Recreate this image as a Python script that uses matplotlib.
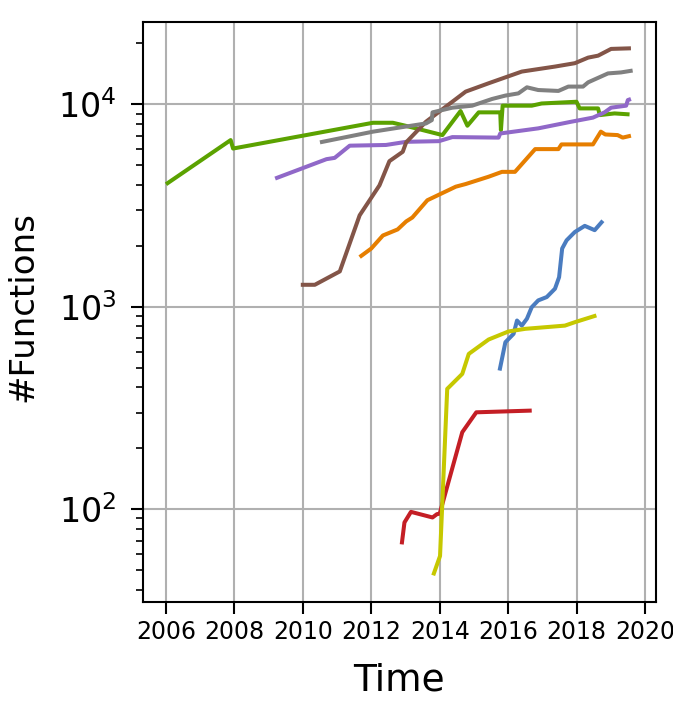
import numpy as np
import matplotlib
matplotlib.use("Agg")
import matplotlib.pyplot as plt

# ---------DATA---------
blue_t = [2015.75, 2015.92, 2016.16, 2016.26, 2016.40, 2016.55, 2016.69, 2016.88,
          2017.13, 2017.37, 2017.49, 2017.58, 2017.71, 2017.95, 2018.24, 2018.53, 2018.77]
blue_v = [484, 668, 735, 855, 807, 873, 995, 1075,
          1117, 1228, 1400, 1940, 2130, 2340, 2510, 2390, 2660]

orange_t = [2011.66, 2012.00, 2012.34, 2012.77, 2013.02, 2013.20, 2013.64, 2014.47,
            2014.76, 2015.43, 2015.82, 2016.20, 2016.79, 2017.47, 2017.56, 2018.48,
            2018.71, 2018.84, 2019.20, 2019.35, 2019.59]
orange_v = [1760, 1940, 2250, 2410, 2640, 2760, 3360, 3920,
            4040, 4390, 4640, 4640, 6010, 6010, 6340, 6340,
            7330, 7100, 7050, 6850, 7000]

green_t = [2006.00, 2007.89, 2007.96, 2012.05, 2012.63, 2013.00, 2014.08, 2014.61,
           2014.81, 2015.14, 2015.77, 2015.79, 2015.84, 2016.69, 2016.98, 2018.00,
           2018.09, 2018.63, 2018.68, 2019.11, 2019.55]
green_v = [4030, 6660, 6050, 8110, 8110, 7840, 7050, 9270,
           7840, 9130, 9130, 7460, 9850, 9850, 10100, 10300,
           9550, 9550, 8850, 9020, 8920]

red_t = [2012.89, 2012.97, 2013.16, 2013.79, 2013.92, 2014.00, 2014.66, 2015.07, 2016.69]
red_v = [67, 86, 97, 91, 94.5, 95, 240, 301, 307]

purple_t = [2009.19, 2010.69, 2010.93, 2011.37, 2012.43, 2013.02, 2013.98, 2014.37,
            2015.72, 2015.77, 2016.88, 2017.85, 2018.48, 2018.82, 2019.01, 2019.45,
            2019.50, 2019.59]
purple_v = [4300, 5360, 5440, 6250, 6300, 6530, 6580, 6890,
            6850, 7180, 7610, 8210, 8600, 9130, 9630, 9850,
            10500, 10630]

brown_t = [2009.94, 2010.35, 2011.08, 2011.66, 2012.24, 2012.53, 2012.92, 2013.02,
           2013.60, 2014.76, 2015.43, 2016.40, 2017.37, 2017.95, 2018.34, 2018.63,
           2019.01, 2019.59]
brown_v = [1284, 1284, 1495, 2830, 3980, 5240, 5830, 6490,
           8210, 11560, 12710, 14520, 15370, 15970, 17020, 17400,
           18790, 18920]

gray_t = [2010.50, 2012.05, 2013.60, 2013.77, 2013.79, 2014.37, 2014.95, 2015.53,
          2015.92, 2016.30, 2016.55, 2016.88, 2017.47, 2017.76, 2018.19, 2018.34,
          2018.92, 2019.30, 2019.64]
gray_v = [6490, 7330, 8050, 8360, 9130, 9630, 9850, 10630,
          11050, 11330, 12140, 11770, 11650, 12240, 12240, 12850,
          14220, 14380, 14690]

olive_t = [2013.81, 2014.01, 2014.22, 2014.66, 2014.85, 2015.43, 2016.01, 2016.50,
           2017.66, 2017.95, 2018.58]
olive_v = [47.1, 58.7, 393, 466, 585, 689, 755, 778,
           807, 839, 906]

xtick_years = [2006, 2008, 2010, 2012, 2014, 2016, 2018, 2020]

series = [
    (blue_t, blue_v, "#4a7cc0"),
    (orange_t, orange_v, "#e67e00"),
    (green_t, green_v, "#5ba200"),
    (red_t, red_v, "#c41e25"),
    (purple_t, purple_v, "#9068c8"),
    (brown_t, brown_v, "#835548"),
    (gray_t, gray_v, "#808080"),
    (olive_t, olive_v, "#c6c800"),
]

# ---------PLOT---------
plt.rcParams['font.family'] = ['DejaVu Sans']

fig = plt.figure(figsize=(6.73, 7.22), dpi=100)
ax = fig.add_axes([0.212, 0.1666, 0.7627, 0.803])

for t, v, c in series:
    ax.plot(t, v, color=c, linewidth=2.9, solid_capstyle='butt')

ax.set_yscale('log')
ax.set_xticks(xtick_years)
ax.set_xticklabels([str(y) for y in xtick_years])
ax.grid(True, which='major', color='#b0b0b0', linewidth=1.5)
ax.set_axisbelow(True)

for side in ax.spines.values():
    side.set_linewidth(1.5)

ax.tick_params(axis='x', which='major', length=8.5, width=1.5, labelsize=17, pad=5)
ax.tick_params(axis='y', which='major', length=9, width=1.5, labelsize=24, pad=10)
ax.tick_params(axis='y', which='minor', length=5, width=1.2)

ax.set_xlabel("Time", fontsize=27, va='baseline')
ax.xaxis.set_label_coords(0.5, -0.1523)
ax.set_ylabel("#Functions", fontsize=24.5, va='baseline')
ax.yaxis.set_label_coords(-0.2157, 0.509)

fig.savefig("out.png", dpi=100)
